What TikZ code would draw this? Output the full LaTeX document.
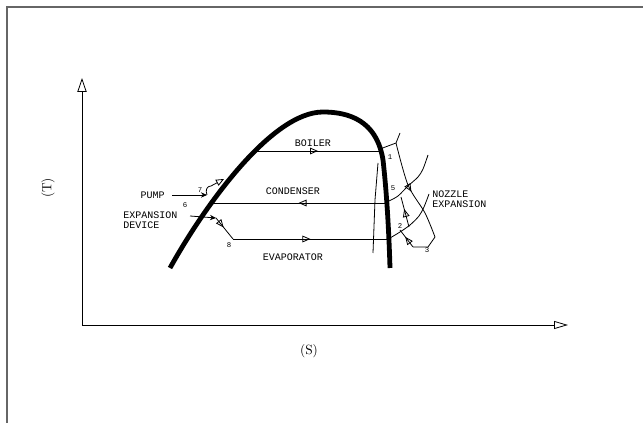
\documentclass[tikz,border=0pt]{standalone}
\usepackage{fontspec}
\newfontfamily\plotfont{Liberation Mono}
\usetikzlibrary{arrows.meta, calc, decorations.markings}

\begin{document}
\begin{tikzpicture}[x=0.75pt, y=-0.75pt, >={Stealth[length=1.6mm, width=1.4mm]},
  every node/.style={font=\plotfont\fontsize{7.5}{7.5}\selectfont, inner sep=0pt},
  ptlabel/.style={font=\plotfont\fontsize{5.5}{5.5}\selectfont},
  axislabel/.style={font=\rmfamily\fontsize{10}{10}\selectfont},
  cycleline/.style={line width=0.6pt},
  openhead/.style={-{Triangle[open, length=6pt, width=5pt]}},
  midfwd/.style={postaction={decorate}, decoration={markings,
      mark=at position #1 with {\arrow{Triangle[open, length=6pt, width=5pt]}}}}]
  \useasboundingbox (0,0) rectangle (643,423);
  % frame
  \draw[black!60, line width=1.5pt] (7,423) -- (7,7.5) -- (643,7.5);
  % axes
  \coordinate (origin) at (82,325);
  \coordinate (ytop) at (82,78);
  \coordinate (xend) at (568,325);
  \draw[cycleline, -{Triangle[open, length=10.5pt, width=7pt]}] (origin) -- (ytop);
  \draw[cycleline, -{Triangle[open, length=10.5pt, width=6pt]}] (origin) -- (xend);
  \node[axislabel, rotate=90] (tlabel) at (48,188) {(T)};
  \node[axislabel] (slabel) at (309,351) {(S)};
  % saturation dome
  \draw[line width=3.6pt] (170,268) .. controls (205,205) and (272,112) .. (323,112)
    .. controls (358,112) and (378,128) .. (383,160)
    .. controls (387,195) and (389,235) .. (390,268);
  % boiler, condenser, evaporator
  \coordinate (b0) at (257,151);
  \coordinate (b1) at (379,151);
  \coordinate (c1) at (386,203);
  \coordinate (c0) at (211,203);
  \coordinate (e0) at (233,239);
  \coordinate (e1) at (391,239);
  \draw[cycleline, midfwd=0.5] (b0) -- (b1);
  \draw[cycleline, midfwd=0.5] (c1) -- (c0);
  \draw[cycleline, midfwd=0.49] (e0) -- (e1);
  \node (boiler) at (313,143) {BOILER};
  \node (condenser) at (293,191) {CONDENSER};
  \node (evaporator) at (293,257) {EVAPORATOR};
  % pump
  \coordinate (pumpstart) at (172,195);
  \coordinate (p7) at (207,195);
  \draw[cycleline, ->] (pumpstart) -- (p7);
  \draw[cycleline, openhead] (p7) .. controls (205,190) and (207,186) .. (211,186) -- (224,179);
  \node[anchor=east] (pump) at (165,195) {PUMP};
  % expansion device
  \coordinate (xstart) at (190,216);
  \coordinate (p6) at (216,218);
  \draw[cycleline, ->] (xstart) -- (p6);
  \draw[cycleline, midfwd=0.45] (p6) -- (e0);
  \node[anchor=north west, align=left] (expdev) at (123,212) {EXPANSION\\DEVICE};
  \node[ptlabel] (n7) at (200,190) {7};
  \node[ptlabel] (n6) at (185,205) {6};
  \node[ptlabel] (n8) at (229,245) {8};
  % nozzle region
  \draw[cycleline] (378,163) -- (375,200) -- (373,253);
  \draw[cycleline] (380,149) -- (396,143) -- (400,133);
  \draw[cycleline] plot[smooth] coordinates {(389,201) (398,196) (408,186) (418,177) (423,169) (428,155)};
  \draw[cycleline] plot[smooth] coordinates {(390,238) (400,232) (410,225) (419,216) (424,207) (429,194)};
  \draw[cycleline, midfwd=0.5] plot[smooth] coordinates {(396,143) (408,185) (425,213) (435,237)};
  \draw[cycleline] (435,237) -- (428,247) -- (413,247);
  \draw[cycleline, midfwd=0.6] (413,247) -- (400,230);
  \draw[cycleline, midfwd=0.6] (409,227) -- (401,197);
  \node[ptlabel] (n1) at (390,157) {1};
  \node[ptlabel] (n5) at (393,188) {5};
  \node[ptlabel] (n2) at (400,226) {2};
  \node[ptlabel] (n3) at (427,250) {3};
  \node[anchor=north west, align=left] (nozzle) at (432,191) {NOZZLE\\EXPANSION};
\end{tikzpicture}
\end{document}
